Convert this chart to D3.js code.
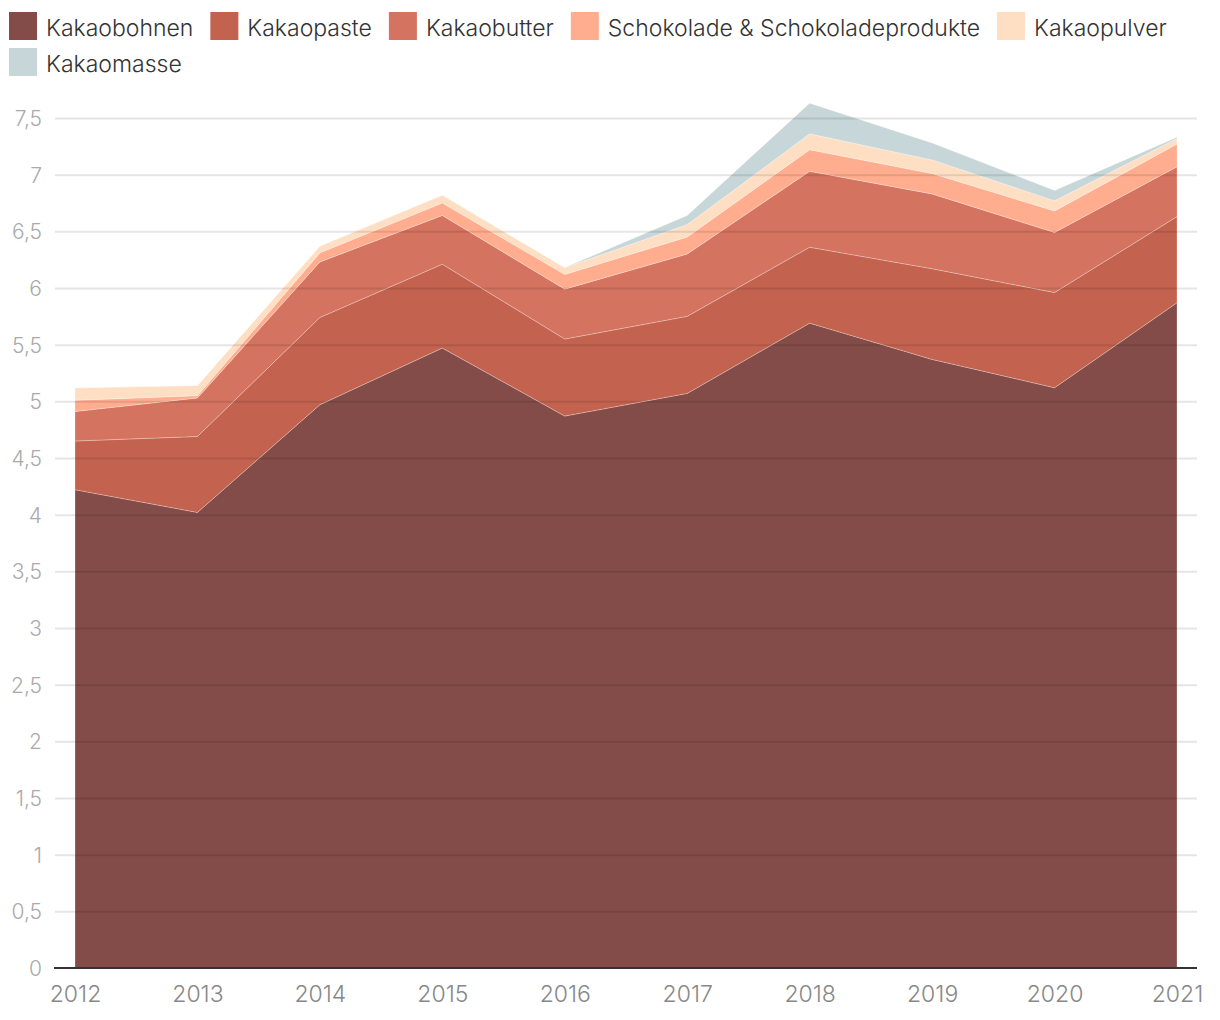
<!DOCTYPE html>
<html lang="de">
  <head>
    <meta charset="utf-8" />
    <title>Kakao Importe</title>
    <script src="https://d3js.org/d3.v7.min.js" charset="utf-8"></script>
    <style>
      body { margin: 0; background: #fff; }
      svg text { font-family: Inter, Roboto, "Noto Sans", sans-serif; }
    </style>
  </head>
  <body>
    <div id="graph-container"></div>
    <script type="text/javascript">
      // data
      const years = [2012, 2013, 2014, 2015, 2016, 2017, 2018, 2019, 2020, 2021];
      const seriesNames = [
        "Kakaobohnen",
        "Kakaopaste",
        "Kakaobutter",
        "Schokolade & Schokoladeprodukte",
        "Kakaopulver",
        "Kakaomasse",
      ];
      const kakaobohnen = [4.22, 4.02, 4.97, 5.47, 4.87, 5.07, 5.69, 5.37, 5.12, 5.87];
      const kakaopaste = [0.43, 0.67, 0.77, 0.74, 0.68, 0.68, 0.67, 0.8, 0.84, 0.76];
      const kakaobutter = [0.26, 0.34, 0.49, 0.43, 0.44, 0.55, 0.67, 0.66, 0.53, 0.44];
      const schokolade = [0.1, 0.02, 0.08, 0.11, 0.13, 0.15, 0.19, 0.18, 0.19, 0.2];
      const kakaopulver = [0.11, 0.09, 0.06, 0.07, 0.06, 0.11, 0.14, 0.12, 0.09, 0.05];
      const kakaomasse = [0, 0, 0, 0, 0, 0.08, 0.27, 0.15, 0.09, 0.01];
      const yTicks = [0, 0.5, 1, 1.5, 2, 2.5, 3, 3.5, 4, 4.5, 5, 5.5, 6, 6.5, 7, 7.5];

      const colors = ["#844c48", "#c3634f", "#d4735f", "#ffad8e", "#ffdfc4", "#c7d6d8"];

      const cW = 1220,
        cH = 1020,
        cLeft = 55,
        cRight = 1197,
        cTop = 118,
        cBottom = 968;

      const allSeries = [kakaobohnen, kakaopaste, kakaobutter, schokolade, kakaopulver, kakaomasse];
      const table = years.map((y, i) => {
        const row = { year: y };
        seriesNames.forEach((n, k) => (row[n] = allSeries[k][i]));
        return row;
      });

      const svg = d3
        .select("#graph-container")
        .append("svg")
        .attr("width", cW)
        .attr("height", cH);

      const xScale = d3.scalePoint().domain(years).range([75, 1177]);
      const yScale = d3.scaleLinear().domain([0, 7.5]).range([cBottom, cTop]);

      const stack = d3.stack().keys(seriesNames)(table);
      const area = d3
        .area()
        .x((d) => xScale(d.data.year))
        .y0((d) => yScale(d[0]))
        .y1((d) => yScale(d[1]));

      //areas
      svg
        .append("g")
        .selectAll("path")
        .data(stack)
        .enter()
        .append("path")
        .attr("d", area)
        .attr("fill", (d, i) => colors[i])
        .attr("stroke", "rgba(255,255,255,0.25)")
        .attr("stroke-width", 1);

      //grid lines on top, slightly dark
      const yAxis = d3
        .axisLeft(yScale)
        .tickValues(yTicks)
        .tickSize(-(cRight - cLeft))
        .tickPadding(13)
        .tickFormat((d) => String(d).replace(".", ","));

      const gY = svg
        .append("g")
        .attr("transform", `translate(${cLeft},0)`)
        .call(yAxis);
      gY.select(".domain").remove();
      gY.selectAll(".tick line")
        .attr("stroke", "rgba(0,0,0,0.1)")
        .attr("stroke-width", 2)
        .filter((d) => d === 0)
        .remove();
      gY.selectAll(".tick text")
        .attr("fill", "#aaa")
        .attr("font-size", 21)
        .attr("font-weight", 300)
        .attr("dy", "0.36em");

      //x axis
      const xAxis = d3.axisBottom(xScale).tickSize(0);
      const gX = svg
        .append("g")
        .attr("transform", `translate(0,${cBottom})`)
        .call(xAxis);
      gX.select(".domain").remove();
      gX.selectAll(".tick text")
        .attr("fill", "#888")
        .attr("font-size", 23)
        .attr("font-weight", 300)
        .attr("dy", null)
        .attr("y", 34);

      svg
        .append("line")
        .attr("x1", 54)
        .attr("x2", cRight)
        .attr("y1", cBottom)
        .attr("y2", cBottom)
        .attr("stroke", "#333")
        .attr("stroke-width", 2);

      //legend
      const legend = svg.append("g");
      let lx = 9,
        ly = 12;
      seriesNames.forEach((name, i) => {
        const item = legend.append("g");
        item
          .append("rect")
          .attr("width", 28)
          .attr("height", 28)
          .attr("fill", colors[i]);
        const t = item
          .append("text")
          .attr("x", 37)
          .attr("y", 24)
          .attr("fill", "#333")
          .attr("font-size", 23)
          .attr("font-weight", 300)
          .text(name);
        const w = 37 + t.node().getComputedTextLength() + 17;
        if (lx + w > cW) {
          lx = 9;
          ly += 36;
        }
        item.attr("transform", `translate(${lx},${ly})`);
        lx += w;
      });
    </script>
  </body>
</html>
